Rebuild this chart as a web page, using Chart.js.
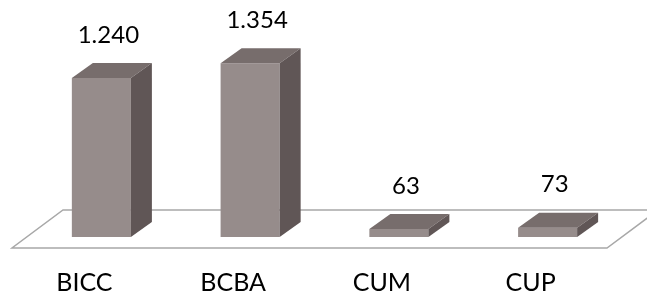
<!DOCTYPE html>
<html>
<head>
    <meta charset="UTF-8">
    <title>BICC BCBA CUM CUP</title>
    <script src="https://cdn.jsdelivr.net/npm/chart.js@4.4.0/dist/chart.umd.min.js"></script>
    <style>
        html, body { margin: 0; padding: 0; background: #ffffff; }
        #wrap { width: 647px; height: 291px; }
    </style>
</head>
<body>
<div id="wrap"><canvas id="myChart" width="647" height="291"></canvas></div>
<script>
    var categories = ["BICC", "BCBA", "CUM", "CUP"];
    var values = [1240, 1354, 63, 73];
    var valueLabels = ["1.240", "1.354", "63", "73"];

    var FRONT = "#968c8b", TOP = "#776d6c", SIDE = "#605656";
    var DX = 21, DY = 15;            // bar depth
    var FDX = 51, FDY = 38;          // floor depth

    var bars3d = {
        id: "bars3d",
        beforeDatasetsDraw: function (chart) {
            // the floor, drawn before the bars so they hide its back edge
            var ctx = chart.ctx, a = chart.chartArea;
            var zero = chart.scales.y.getPixelForValue(0);
            var fy = zero + 11, fx = a.left - 15, fx2 = a.right - 15;
            ctx.save();
            ctx.strokeStyle = "#a8a8a8";
            ctx.lineWidth = 1.5;
            ctx.beginPath();
            ctx.moveTo(fx, fy);
            ctx.lineTo(fx2, fy);
            ctx.lineTo(fx2 + FDX, fy - FDY);
            ctx.lineTo(fx + FDX, fy - FDY);
            ctx.closePath();
            ctx.stroke();
            ctx.restore();
        },
        afterDatasetsDraw: function (chart) {
            var ctx = chart.ctx;
            var meta = chart.getDatasetMeta(0);
            ctx.save();
            meta.data.forEach(function (bar, i) {
                var l = bar.x - bar.width / 2, r = bar.x + bar.width / 2;
                var t = bar.y, b = bar.base;
                ctx.fillStyle = TOP;
                ctx.beginPath();
                ctx.moveTo(l, t); ctx.lineTo(r, t);
                ctx.lineTo(r + DX, t - DY); ctx.lineTo(l + DX, t - DY);
                ctx.closePath(); ctx.fill();
                ctx.fillStyle = SIDE;
                ctx.beginPath();
                ctx.moveTo(r, t); ctx.lineTo(r + DX, t - DY);
                ctx.lineTo(r + DX, b - DY); ctx.lineTo(r, b);
                ctx.closePath(); ctx.fill();

                ctx.fillStyle = "#000000";
                ctx.font = "24px Lato";
                ctx.textAlign = "center";
                ctx.textBaseline = "middle";
                ctx.fillText(valueLabels[i], bar.x + 7, t - 43);
            });
            ctx.restore();
        }
    };

    var ctx = document.getElementById("myChart").getContext("2d");
    var chart = new Chart(ctx, {
        type: "bar",
        data: {
            labels: categories,
            datasets: [{
                data: values,
                backgroundColor: FRONT,
                borderWidth: 0,
                categoryPercentage: 1,
                barPercentage: 0.397
            }]
        },
        options: {
            responsive: false,
            animation: false,
            layout: { padding: { left: 27, right: 25, top: 0, bottom: -38 } },
            plugins: { legend: { display: false }, tooltip: { enabled: false } },
            scales: {
                x: {
                    grid: { display: false, drawTicks: false },
                    border: { display: false },
                    ticks: {
                        color: "#000000",
                        font: { family: "Lato", size: 25 },
                        padding: 31,
                        labelOffset: -17
                    }
                },
                y: {
                    display: false,
                    min: 0,
                    max: 1848
                }
            }
        },
        plugins: [bars3d]
    });
</script>
</body>
</html>
